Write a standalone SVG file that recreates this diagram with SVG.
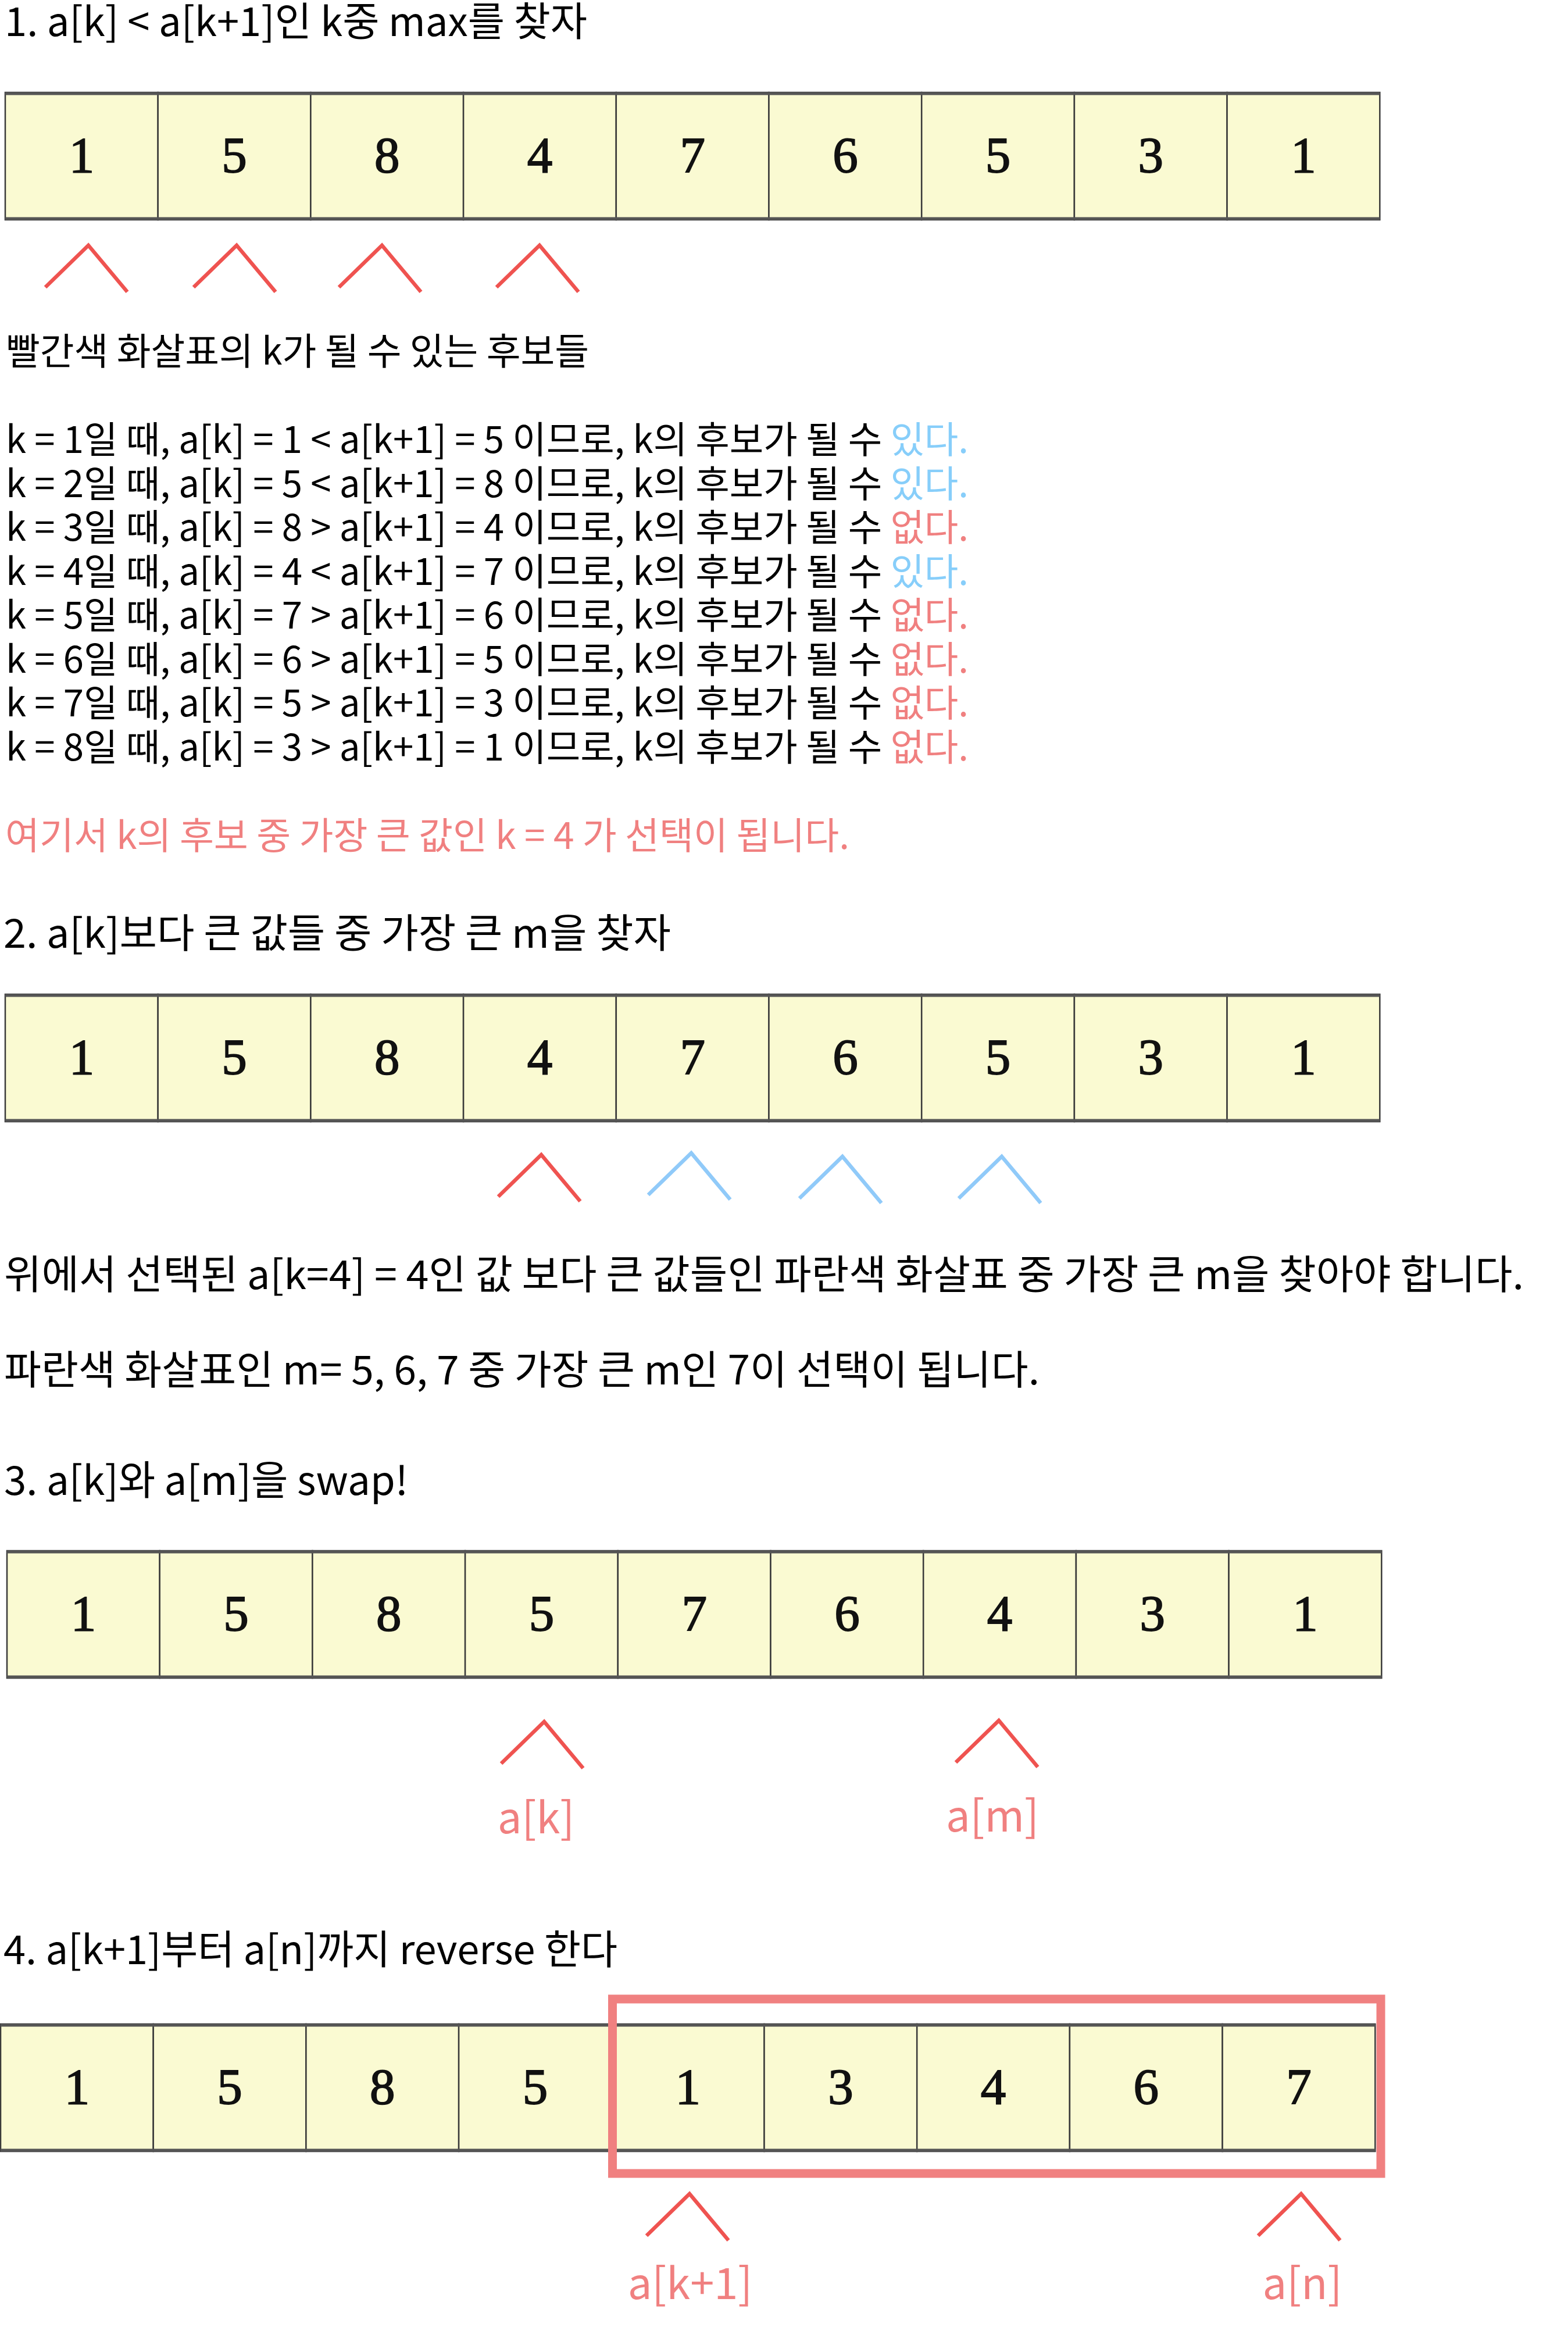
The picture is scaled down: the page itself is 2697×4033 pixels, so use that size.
<svg xmlns="http://www.w3.org/2000/svg" xmlns:xlink="http://www.w3.org/1999/xlink" width="2697" height="4033" viewBox="0 0 2697 4033">
<style>
.t{font-family:"Noto Sans CJK KR","Noto Sans",sans-serif;fill:#000}
.title{font-size:69px}
.body{font-size:64px}
.big{font-size:69px}
.lbl{font-size:74px;fill:#F08080;text-anchor:middle}
.yes{fill:#87CEFA}
.no{fill:#F08080}
.cell{fill:#FAFAD2;stroke:#3a3a3a;stroke-width:2.5}
.edge{stroke:#555;stroke-width:5}
.num{font-family:"Liberation Serif","Times New Roman",serif;font-size:87px;text-anchor:middle;fill:#111;stroke:#111;stroke-width:1.8}
.cr{stroke:#EF5350}
.cb{stroke:#90CAF9}
</style>
<defs>
<path id="chev" d="M -74 72 L 0 0 L 67 80" fill="none" stroke-width="6.5" stroke-linejoin="miter" stroke-miterlimit="10"/>
</defs>
<rect width="2697" height="4033" fill="#fff"/>

<!-- Section 1 -->
<text class="t title" x="8" y="62" textLength="1002" lengthAdjust="spacingAndGlyphs">1. a[k] &lt; a[k+1]인 k중 max를 찾자</text>
<g id="array1">
<g id="a1c1"><rect class="cell" x="9" y="159" width="262.7" height="219"/><text class="num" x="140.4" y="296">1</text></g>
<g id="a1c2"><rect class="cell" x="271.7" y="159" width="262.7" height="219"/><text class="num" x="403.1" y="296">5</text></g>
<g id="a1c3"><rect class="cell" x="534.4" y="159" width="262.7" height="219"/><text class="num" x="665.8" y="296">8</text></g>
<g id="a1c4"><rect class="cell" x="797.1" y="159" width="262.7" height="219"/><text class="num" x="928.5" y="296">4</text></g>
<g id="a1c5"><rect class="cell" x="1059.8" y="159" width="262.7" height="219"/><text class="num" x="1191.2" y="296">7</text></g>
<g id="a1c6"><rect class="cell" x="1322.5" y="159" width="262.7" height="219"/><text class="num" x="1453.9" y="296">6</text></g>
<g id="a1c7"><rect class="cell" x="1585.2" y="159" width="262.7" height="219"/><text class="num" x="1716.6" y="296">5</text></g>
<g id="a1c8"><rect class="cell" x="1847.9" y="159" width="262.7" height="219"/><text class="num" x="1979.3" y="296">3</text></g>
<g id="a1c9"><rect class="cell" x="2110.6" y="159" width="262.7" height="219"/><text class="num" x="2242" y="296">1</text></g>
<line class="edge" x1="9" y1="161" x2="2373.3" y2="161"/>
<line class="edge" x1="9" y1="376" x2="2373.3" y2="376"/>
</g>
<g id="pointers1">
<use href="#chev" xlink:href="#chev" class="cr" x="152" y="422"/>
<use href="#chev" xlink:href="#chev" class="cr" x="407" y="422"/>
<use href="#chev" xlink:href="#chev" class="cr" x="657" y="422"/>
<use href="#chev" xlink:href="#chev" class="cr" x="928" y="422"/>
</g>
<text class="t body" x="10" y="627" textLength="1003" lengthAdjust="spacingAndGlyphs">빨간색 화살표의 k가 될 수 있는 후보들</text>
<g id="klines" class="t body">
<text x="10" y="779" textLength="1656" lengthAdjust="spacingAndGlyphs">k = 1일 때, a[k] = 1 &lt; a[k+1] = 5 이므로, k의 후보가 될 수 <tspan class="yes">있다.</tspan></text>
<text x="10" y="854.5" textLength="1656" lengthAdjust="spacingAndGlyphs">k = 2일 때, a[k] = 5 &lt; a[k+1] = 8 이므로, k의 후보가 될 수 <tspan class="yes">있다.</tspan></text>
<text x="10" y="930" textLength="1656" lengthAdjust="spacingAndGlyphs">k = 3일 때, a[k] = 8 &gt; a[k+1] = 4 이므로, k의 후보가 될 수 <tspan class="no">없다.</tspan></text>
<text x="10" y="1005.5" textLength="1656" lengthAdjust="spacingAndGlyphs">k = 4일 때, a[k] = 4 &lt; a[k+1] = 7 이므로, k의 후보가 될 수 <tspan class="yes">있다.</tspan></text>
<text x="10" y="1081" textLength="1656" lengthAdjust="spacingAndGlyphs">k = 5일 때, a[k] = 7 &gt; a[k+1] = 6 이므로, k의 후보가 될 수 <tspan class="no">없다.</tspan></text>
<text x="10" y="1156.5" textLength="1656" lengthAdjust="spacingAndGlyphs">k = 6일 때, a[k] = 6 &gt; a[k+1] = 5 이므로, k의 후보가 될 수 <tspan class="no">없다.</tspan></text>
<text x="10" y="1232" textLength="1656" lengthAdjust="spacingAndGlyphs">k = 7일 때, a[k] = 5 &gt; a[k+1] = 3 이므로, k의 후보가 될 수 <tspan class="no">없다.</tspan></text>
<text x="10" y="1307.5" textLength="1656" lengthAdjust="spacingAndGlyphs">k = 8일 때, a[k] = 3 &gt; a[k+1] = 1 이므로, k의 후보가 될 수 <tspan class="no">없다.</tspan></text>
</g>
<text class="t body no" x="9" y="1460" textLength="1452" lengthAdjust="spacingAndGlyphs">여기서 k의 후보 중 가장 큰 값인 k = 4 가 선택이 됩니다.</text>

<!-- Section 2 -->
<text class="t title" x="6" y="1630" textLength="1148" lengthAdjust="spacingAndGlyphs">2. a[k]보다 큰 값들 중 가장 큰 m을 찾자</text>
<g id="array2">
<g id="a2c1"><rect class="cell" x="9" y="1710" width="262.7" height="219"/><text class="num" x="140.4" y="1847">1</text></g>
<g id="a2c2"><rect class="cell" x="271.7" y="1710" width="262.7" height="219"/><text class="num" x="403.1" y="1847">5</text></g>
<g id="a2c3"><rect class="cell" x="534.4" y="1710" width="262.7" height="219"/><text class="num" x="665.8" y="1847">8</text></g>
<g id="a2c4"><rect class="cell" x="797.1" y="1710" width="262.7" height="219"/><text class="num" x="928.5" y="1847">4</text></g>
<g id="a2c5"><rect class="cell" x="1059.8" y="1710" width="262.7" height="219"/><text class="num" x="1191.2" y="1847">7</text></g>
<g id="a2c6"><rect class="cell" x="1322.5" y="1710" width="262.7" height="219"/><text class="num" x="1453.9" y="1847">6</text></g>
<g id="a2c7"><rect class="cell" x="1585.2" y="1710" width="262.7" height="219"/><text class="num" x="1716.6" y="1847">5</text></g>
<g id="a2c8"><rect class="cell" x="1847.9" y="1710" width="262.7" height="219"/><text class="num" x="1979.3" y="1847">3</text></g>
<g id="a2c9"><rect class="cell" x="2110.6" y="1710" width="262.7" height="219"/><text class="num" x="2242" y="1847">1</text></g>
<line class="edge" x1="9" y1="1712" x2="2373.3" y2="1712"/>
<line class="edge" x1="9" y1="1927" x2="2373.3" y2="1927"/>
</g>
<g id="pointers2">
<use href="#chev" xlink:href="#chev" class="cr" x="931" y="1986"/>
<use href="#chev" xlink:href="#chev" class="cb" x="1189" y="1983"/>
<use href="#chev" xlink:href="#chev" class="cb" x="1449" y="1989"/>
<use href="#chev" xlink:href="#chev" class="cb" x="1723" y="1989"/>
</g>
<text class="t big" x="7" y="2217" textLength="2614" lengthAdjust="spacingAndGlyphs">위에서 선택된 a[k=4] = 4인 값 보다 큰 값들인 파란색 화살표 중 가장 큰 m을 찾아야 합니다.</text>
<text class="t big" x="7" y="2381" textLength="1781" lengthAdjust="spacingAndGlyphs">파란색 화살표인 m= 5, 6, 7 중 가장 큰 m인 7이 선택이 됩니다.</text>

<!-- Section 3 -->
<text class="t title" x="7" y="2571" textLength="695" lengthAdjust="spacingAndGlyphs">3. a[k]와 a[m]을 swap!</text>
<g id="array3">
<g id="a3c1"><rect class="cell" x="12" y="2667" width="262.7" height="219"/><text class="num" x="143.4" y="2804">1</text></g>
<g id="a3c2"><rect class="cell" x="274.7" y="2667" width="262.7" height="219"/><text class="num" x="406.1" y="2804">5</text></g>
<g id="a3c3"><rect class="cell" x="537.4" y="2667" width="262.7" height="219"/><text class="num" x="668.8" y="2804">8</text></g>
<g id="a3c4"><rect class="cell" x="800.1" y="2667" width="262.7" height="219"/><text class="num" x="931.5" y="2804">5</text></g>
<g id="a3c5"><rect class="cell" x="1062.8" y="2667" width="262.7" height="219"/><text class="num" x="1194.2" y="2804">7</text></g>
<g id="a3c6"><rect class="cell" x="1325.5" y="2667" width="262.7" height="219"/><text class="num" x="1456.9" y="2804">6</text></g>
<g id="a3c7"><rect class="cell" x="1588.2" y="2667" width="262.7" height="219"/><text class="num" x="1719.6" y="2804">4</text></g>
<g id="a3c8"><rect class="cell" x="1850.9" y="2667" width="262.7" height="219"/><text class="num" x="1982.3" y="2804">3</text></g>
<g id="a3c9"><rect class="cell" x="2113.6" y="2667" width="262.7" height="219"/><text class="num" x="2245" y="2804">1</text></g>
<line class="edge" x1="12" y1="2669" x2="2376.3" y2="2669"/>
<line class="edge" x1="12" y1="2884" x2="2376.3" y2="2884"/>
</g>
<g id="pointers3">
<use href="#chev" xlink:href="#chev" class="cr" x="936" y="2961"/>
<use href="#chev" xlink:href="#chev" class="cr" x="1718" y="2959"/>
</g>
<text class="t lbl" x="922" y="3153">a[k]</text>
<text class="t lbl" x="1707" y="3150">a[m]</text>

<!-- Section 4 -->
<text class="t title" x="6" y="3378" textLength="1056" lengthAdjust="spacingAndGlyphs">4. a[k+1]부터 a[n]까지 reverse 한다</text>
<g id="array4">
<g id="a4c1"><rect class="cell" x="1" y="3481" width="262.7" height="219"/><text class="num" x="132.4" y="3618">1</text></g>
<g id="a4c2"><rect class="cell" x="263.7" y="3481" width="262.7" height="219"/><text class="num" x="395.1" y="3618">5</text></g>
<g id="a4c3"><rect class="cell" x="526.4" y="3481" width="262.7" height="219"/><text class="num" x="657.8" y="3618">8</text></g>
<g id="a4c4"><rect class="cell" x="789.1" y="3481" width="262.7" height="219"/><text class="num" x="920.5" y="3618">5</text></g>
<g id="a4c5"><rect class="cell" x="1051.8" y="3481" width="262.7" height="219"/><text class="num" x="1183.2" y="3618">1</text></g>
<g id="a4c6"><rect class="cell" x="1314.5" y="3481" width="262.7" height="219"/><text class="num" x="1445.9" y="3618">3</text></g>
<g id="a4c7"><rect class="cell" x="1577.2" y="3481" width="262.7" height="219"/><text class="num" x="1708.6" y="3618">4</text></g>
<g id="a4c8"><rect class="cell" x="1839.9" y="3481" width="262.7" height="219"/><text class="num" x="1971.3" y="3618">6</text></g>
<g id="a4c9"><rect class="cell" x="2102.6" y="3481" width="262.7" height="219"/><text class="num" x="2234" y="3618">7</text></g>
<line class="edge" x1="1" y1="3483" x2="2365.3" y2="3483" stroke="#333"/>
<line class="edge" x1="1" y1="3698" x2="2365.3" y2="3698" stroke="#3a3a30"/>
</g>
<g id="reverse-box">
<rect x="1053.5" y="3438" width="1321.5" height="300" fill="none" stroke="#F08080" stroke-width="15"/>
</g>
<g id="pointers4">
<use href="#chev" xlink:href="#chev" class="cr" x="1186" y="3773"/>
<use href="#chev" xlink:href="#chev" class="cr" x="2238" y="3773"/>
</g>
<text class="t lbl" x="1187" y="3954">a[k+1]</text>
<text class="t lbl" x="2240" y="3954">a[n]</text>
</svg>
